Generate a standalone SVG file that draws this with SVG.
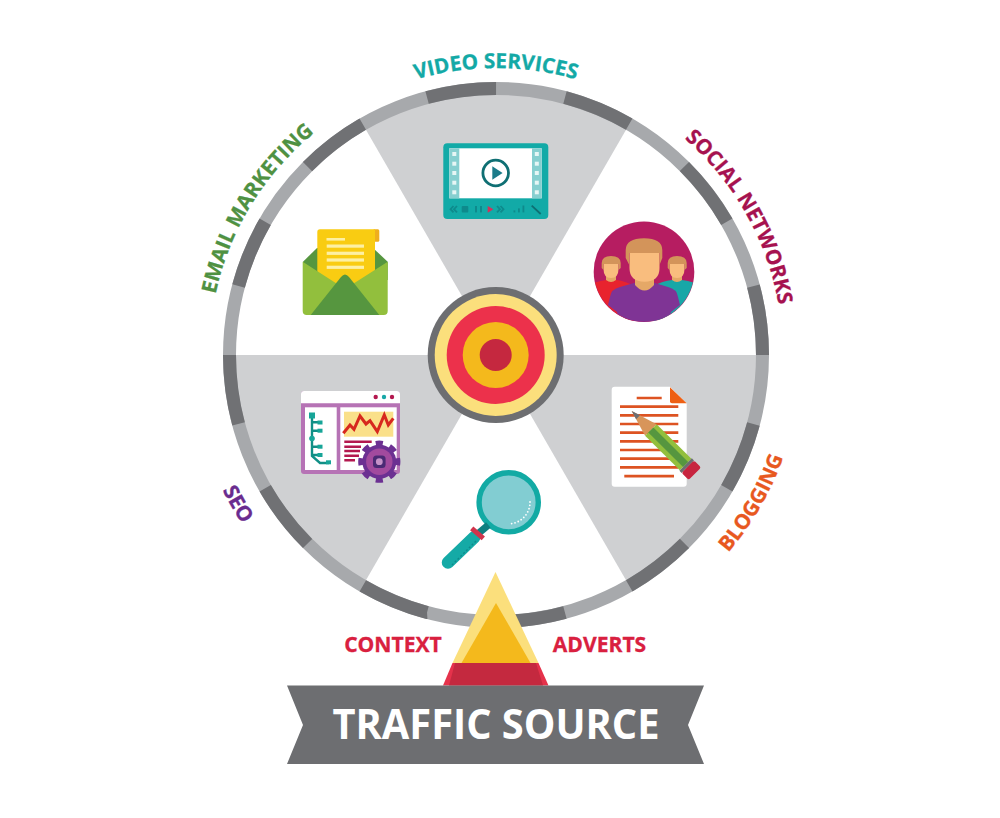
<svg xmlns="http://www.w3.org/2000/svg" width="1000" height="818" viewBox="0 0 1000 818">
<style>
.lab{font-family:"Open Sans","Liberation Sans",sans-serif;font-weight:700;font-size:20.7px;stroke-width:.3px}
.flat{font-size:21.1px}
.wedge{fill:#cfd0d2}
.ln{stroke-width:2.7;stroke:#dd5322;fill:none}
.pm{stroke-width:2.4;stroke:#b3184f;fill:none}
.tr{stroke:#108f86;stroke-width:2.4;fill:none}
.nd{fill:#17a598}
.wl{fill:#fdf0a3}
.cc{fill:none;stroke:#0e8a8c;stroke-width:1.8}
.ctl{fill:#0e8a8c}
.sq{fill:#e6f6f5}
</style>
<defs>
<clipPath id="socClip"><circle cx="644" cy="271.7" r="50"/></clipPath>
<path id="pVideo" d="M352.5 106.5A287 287 0 0 1 639.5 106.5"/>
<path id="pEmail" d="M209.1 347.5A287 287 0 0 1 359 102.8"/>
<path id="pSocial" d="M641.7 107.7A287 287 0 0 1 783 357.5"/>
<path id="pBlog" d="M648.5 619.1A305 305 0 0 0 801 355"/>
<path id="pSeo" d="M191 355A305 305 0 0 0 343.5 619.1"/>
</defs>
<rect width="1000" height="818" fill="#fff"/>

<g id="wheel">
<path class="wedge" d="M496 355L365.5 129A261 261 0 0 1 626.5 129Z"/>
<path class="wedge" d="M496 355L757 355A261 261 0 0 1 626.5 581Z"/>
<path class="wedge" d="M496 355L365.5 581A261 261 0 0 1 235 355Z"/>
<circle cx="496" cy="355" r="266.5" fill="none" stroke="#a7a9ac" stroke-width="13"/>
<circle cx="496" cy="355" r="266.5" fill="none" stroke="#707174" stroke-width="13" pathLength="24" stroke-dasharray="1 1" transform="rotate(-75 496 355)"/>
</g>

<g id="target">
<circle cx="495.7" cy="355" r="68" fill="#6d6e71"/>
<circle cx="495.7" cy="355" r="61" fill="#fbdf7c"/>
<circle cx="495.7" cy="355" r="49" fill="#ec314b"/>
<circle cx="495.7" cy="355" r="33" fill="#f4b91c"/>
<circle cx="495.7" cy="355" r="16" fill="#c5283f"/>
</g>

<g id="video-icon">
<rect x="443.3" y="143.3" width="105" height="75.7" rx="4" fill="#12aaa7"/>
<rect x="449.3" y="148.3" width="92.4" height="50" fill="#fff"/>
<rect x="449.3" y="148.3" width="10" height="50" fill="#86cfd0"/>
<rect x="532" y="148.3" width="9.7" height="50" fill="#86cfd0"/>
<g class="sq">
<rect x="452.3" y="152" width="4" height="4"/><rect x="452.3" y="161.7" width="4" height="4"/><rect x="452.3" y="171" width="4" height="4"/><rect x="452.3" y="180.7" width="4" height="4"/><rect x="452.3" y="190.3" width="4" height="4"/>
<rect x="534.8" y="152" width="4" height="4"/><rect x="534.8" y="161.7" width="4" height="4"/><rect x="534.8" y="171" width="4" height="4"/><rect x="534.8" y="180.7" width="4" height="4"/><rect x="534.8" y="190.3" width="4" height="4"/>
</g>
<circle cx="495.7" cy="173" r="12.8" fill="none" stroke="#0f6f73" stroke-width="2.8"/>
<path d="M492.3 166.3L502.6 173L492.3 179.7Z" fill="#1b7b89"/>
<path class="cc" d="M453.5 206L450.5 209.2L453.5 212.4M457 206L454 209.2L457 212.4"/>
<rect class="ctl" x="461.7" y="206" width="6.6" height="6.4" rx="1"/>
<rect class="ctl" x="475" y="206" width="2" height="6.4"/><rect class="ctl" x="480" y="206" width="2" height="6.4"/>
<path d="M487.7 206L493.3 209.3L487.7 212.7Z" fill="#d5305a"/>
<path class="cc" d="M497 206L500 209.2L497 212.4M500.5 206L503.5 209.2L500.5 212.4"/>
<rect class="ctl" x="513.5" y="210.4" width="1.8" height="2"/><rect class="ctl" x="518" y="208.4" width="1.8" height="4"/><rect class="ctl" x="522.5" y="205.5" width="1.8" height="6.9"/>
<path d="M531.7 205.7L540.7 214" stroke="#0e6f72" stroke-width="1.8" fill="none"/>
</g>

<g id="social-icon">
<circle cx="644" cy="271.7" r="50.3" fill="#b61d61"/>
<g clip-path="url(#socClip)">
<path d="M590 325V284Q600 281 606 280L617 280Q625 281 634 286V325Z" fill="#e8232e"/>
<path d="M698 325V284Q690 281 682 280L672 280Q662 281 654 286V325Z" fill="#18a7a7"/>
<path d="M606 272h10v8q-5 4-10 0ZM672 272h10v8q-5 4-10 0Z" fill="#e5a867"/>
<path d="M603.5 262H618.5V269Q618.5 278 611 278Q603.5 278 603.5 269Z" fill="#f9bd7e"/>
<path d="M669.5 262H684.5V269Q684.5 278 677 278Q669.5 278 669.5 269Z" fill="#f9bd7e"/>
<path d="M601.7 268V263Q602 256 611 256Q620.5 256 620.7 263V268L618.5 270V264H603.5V270Z" fill="#d3945a"/>
<path d="M667.7 268V263Q668 256 677 256Q686.5 256 686.7 263V268L684.5 270V264H669.5V270Z" fill="#d3945a"/>
<path d="M604 322L614 314L618 322ZM684 322L672 314L668 322Z" fill="#f9bd7e"/>
<path d="M608 305L610 297Q611 289 620 287L634 283H655L668 287Q677 289 678 297L680 305L671 312L668 325H620L617 312Z" fill="#7f3495"/>
<path d="M635 276H654V285Q644.5 296 635 285Z" fill="#e5a867"/>
</g>
<path d="M629.5 250V268Q629.5 281.7 644.5 281.7Q659.5 281.7 659.5 268V250Z" fill="#f9bd7e"/>
<path d="M625.7 258V250Q626 238.3 644 238.3Q662 238.3 662.3 250V258L659.5 265V253H629.3V265Z" fill="#d3945a"/>
</g>

<g id="email-icon">
<path d="M303 261.7L317 248H373L387.7 261.7V280H303Z" fill="#56963f"/>
<rect x="373" y="229.3" width="6.3" height="12.4" rx="1.5" fill="#efae1d"/>
<path d="M317.3 232Q317.3 229.3 320 229.3H375V282L345 295L317.3 282Z" fill="#f9cc12"/>
<rect class="wl" x="326.5" y="238" width="18.5" height="2.6"/>
<rect class="wl" x="326.7" y="244.5" width="37.3" height="3.2"/>
<rect class="wl" x="326.7" y="251.7" width="37.3" height="3.2"/>
<rect class="wl" x="326.7" y="258.4" width="37.3" height="3.2"/>
<rect class="wl" x="326.7" y="265.7" width="37.3" height="3.2"/>
<path d="M302.7 261.7L345 289L387.7 261.7V311Q387.7 315 383.7 315H306.7Q302.7 315 302.7 311Z" fill="#92bf3d"/>
<path d="M310.7 315L341 277Q345 272 349 277L379.3 315Z" fill="#56963f"/>
</g>

<g id="seo-icon">
<rect x="301" y="391" width="99" height="83" rx="3" fill="#b673b5"/>
<path d="M301 403.3V394Q301 391 304 391H397Q400 391 400 394V403.3Z" fill="#fff"/>
<circle cx="375.7" cy="397" r="2.2" fill="#b3184f"/><circle cx="384" cy="397" r="2.2" fill="#18a7a7"/><circle cx="392" cy="397" r="2.2" fill="#b3184f"/>
<rect x="305" y="407.3" width="31.7" height="62.7" fill="#fff"/>
<rect x="340.3" y="407.3" width="56.4" height="62.7" fill="#fff"/>
<rect x="344" y="411.7" width="49.3" height="25" fill="#fae08a"/>
<polyline points="343.3,433.3 350,425 354,429.3 360,416 366,424 370,420.7 377.3,431.7 384.3,415 388.3,425 393.3,418.3" fill="none" stroke="#d7281e" stroke-width="3"/>
<path class="pm" d="M344.3 441.7H371.7M344.3 446.7H361M344.3 451H360M344.3 455.7H359M344.3 460.3H355"/>
<path class="tr" d="M312 415V438M320 422.3H312M320 430.7H312M312 438V456L320 463H329M312 446.7H320M312 455H320"/>
<rect class="nd" x="309" y="412.5" width="6" height="6"/>
<rect class="nd" x="317.5" y="420.5" width="5" height="4"/><rect class="nd" x="317.5" y="428.7" width="5" height="4"/>
<circle class="nd" cx="312" cy="438.5" r="2.8"/>
<rect class="nd" x="317.5" y="444.7" width="5" height="4"/><rect class="nd" x="317.5" y="453" width="5" height="4"/>
<rect class="nd" x="326" y="460.3" width="5" height="4"/>
<circle cx="379.3" cy="461.7" r="17" fill="#6c3092"/>
<circle cx="379.3" cy="461.7" r="18.7" fill="none" stroke="#6c3092" stroke-width="4.8" pathLength="16" stroke-dasharray="1 1" stroke-dashoffset="0.5"/>
<circle cx="379.3" cy="461.7" r="13.2" fill="#a24a9e"/>
<rect x="373" y="455.4" width="12.6" height="12.6" rx="3.5" fill="#4a2a74"/>
<circle cx="379.3" cy="461.7" r="3.4" fill="#c692c8"/>
</g>

<g id="blog-icon">
<path d="M611.7 389.7Q611.7 386.7 614.7 386.7H670L686.7 403.3V483.7Q686.7 486.7 683.7 486.7H614.7Q611.7 486.7 611.7 483.7Z" fill="#fff"/>
<path d="M670 387.3L686.7 403.3H672Q670 403.3 670 401.3Z" fill="#ee5f13"/>
<path class="ln" d="M636.7 398H661.7M620 406.7H678.3M620 415.3H678.3M620 424H678.3M620 432.7H678.3M620 441.3H678.3M620 450H678.3M620 458.7H678.3M620 467.3H678.3M624.3 476.2H674"/>
<g transform="translate(631.7 411) rotate(44.8)">
<path d="M0 0L27 -8.2V8.2Z" fill="#d8955a"/>
<path d="M0 0L9 -2.8V2.8Z" fill="#6d6e71"/>
<rect x="27" y="-8.2" width="49" height="16.4" fill="#92bf3d"/>
<rect x="27" y="-3.6" width="49" height="7.2" fill="#56963f"/>
<rect x="76" y="-8.8" width="3" height="17.6" fill="#6d6e71"/>
<rect x="79" y="-8.8" width="10" height="17.6" rx="2" fill="#c7243f"/>
</g>
</g>

<g id="search-icon">
<circle cx="508.7" cy="502.3" r="29.6" fill="#82cdd2" stroke="#12aaa4" stroke-width="5.4"/>
<path d="M530 502A21.5 21.5 0 0 1 508.7 523.8" fill="none" stroke="#fff" stroke-width="1.8" stroke-linecap="round" stroke-dasharray="0 3.4"/>
<path d="M488.3 525L478.3 533.5" stroke="#0e7f80" stroke-width="7" fill="none"/>
<path d="M474.5 537L448 562.5" stroke="#15aaa6" stroke-width="12.5" stroke-linecap="round" fill="none"/>
<path d="M476 541L452 565" stroke="#0e8a8c" stroke-width="1.4" stroke-dasharray="2 2" fill="none"/>
<path d="M471.7 528.3L483.3 538.3" stroke="#d0344c" stroke-width="5" fill="none"/>
</g>

<g id="pointer">
<path d="M495.5 572L538.5 663H452.5Z" fill="#fbdf7c"/>
<path d="M496 603L530.5 663H461.5Z" fill="#f4b91c"/>
<path d="M452.5 663H538.5L548.5 685.5H443Z" fill="#e5324b"/>
<path d="M455 663H536L543 685.5H449Z" fill="#c4293f"/>
</g>

<g id="banner">
<path d="M287 685.5H704L688 725L704 764H287L303 725Z" fill="#6d6e71"/>
<text x="496" y="739" text-anchor="middle" font-family="'Open Sans','Liberation Sans',sans-serif" font-weight="700" font-size="41" fill="#fff" textLength="327" lengthAdjust="spacingAndGlyphs">TRAFFIC SOURCE</text>
</g>

<g id="labels">
<text class="lab" fill="#13a9a6" stroke="#13a9a6" text-anchor="middle"><textPath href="#pVideo" startOffset="50%">VIDEO SERVICES</textPath></text>
<text class="lab" fill="#4f9142" stroke="#4f9142" text-anchor="middle"><textPath href="#pEmail" startOffset="50%">EMAIL MARKETING</textPath></text>
<text class="lab" fill="#a6124f" stroke="#a6124f" text-anchor="middle"><textPath href="#pSocial" startOffset="50%">SOCIAL NETWORKS</textPath></text>
<text class="lab" fill="#e8591f" stroke="#e8591f" text-anchor="middle"><textPath href="#pBlog" startOffset="50%">BLOGGING</textPath></text>
<text class="lab" fill="#6a2c8f" stroke="#6a2c8f" text-anchor="middle"><textPath href="#pSeo" startOffset="50%">SEO</textPath></text>
<text class="lab flat" fill="#d9203f" stroke="#d9203f" x="393" y="652" text-anchor="middle">CONTEXT</text>
<text class="lab flat" fill="#d9203f" stroke="#d9203f" x="599.5" y="652" text-anchor="middle">ADVERTS</text>
</g>
</svg>
